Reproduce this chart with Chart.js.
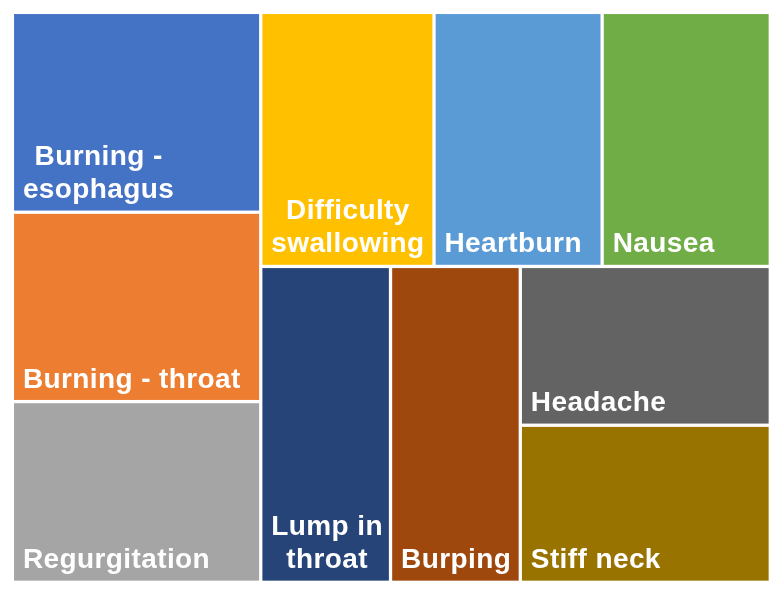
<!DOCTYPE html>
<html>
<head>
<meta charset="utf-8">
<title>Symptoms treemap</title>
<script src="https://cdn.jsdelivr.net/npm/chart.js@4.4.1/dist/chart.umd.min.js"></script>
<style>
  html, body { margin: 0; padding: 0; background: #ffffff; }
  #wrap { width: 784px; height: 596px; position: relative; }
</style>
</head>
<body>
<div id="wrap"><canvas id="chartTreemap"></canvas></div>
<script>
/* Treemap of reported symptoms — cells laid out from the values,
   drawn through hidden linear scales. */

const categories = [
  'Burning - esophagus', 'Burning - throat', 'Regurgitation',
  'Difficulty swallowing', 'Heartburn', 'Nausea',
  'Lump in throat', 'Burping', 'Headache', 'Stiff neck'
];
const values = [11.5, 10.9, 10.4, 10.2, 9.9, 9.9, 9.5, 9.5, 9.2, 9.1];
const colors = [
  '#4472C4', '#ED7D31', '#A5A5A5',
  '#FFC000', '#5B9BD5', '#70AD47',
  '#264478', '#9E480E', '#636363', '#997300'
];

// ── Squarified layout (strips along the short side) ─────────
function squarify(vals, W, H) {
  const total = vals.reduce((a, b) => a + b, 0);
  const order = vals.map((v, i) => i).sort((a, b) => vals[b] - vals[a] || a - b);
  const area = vals.map(v => v / total * W * H);
  const out = [];
  let r = { x: 0, y: 0, w: W, h: H };

  const worst = (idx, short) => {
    const s = idx.reduce((a, k) => a + area[k], 0);
    const t = s / short;
    let m = 0;
    idx.forEach(k => {
      const len = area[k] / t;
      m = Math.max(m, t / len, len / t);
    });
    return m;
  };

  let i = 0;
  while (i < order.length) {
    const column = r.w >= r.h;
    const short = Math.min(r.w, r.h);
    const long = Math.max(r.w, r.h);
    let strip = [order[i]];
    let best = worst(strip, short);
    let j = i + 1;
    while (j < order.length) {
      const cand = strip.concat(order[j]);
      const thick = cand.reduce((a, k) => a + area[k], 0) / short;
      if (thick > long / 2) break;
      const w = worst(cand, short);
      if (w > best) break;
      strip = cand; best = w; j++;
    }
    const thick = strip.reduce((a, k) => a + area[k], 0) / short;
    let off = 0;
    strip.forEach(k => {
      const len = area[k] / thick;
      if (column) out[k] = { x: r.x, y: r.y + off, w: thick, h: len };
      else out[k] = { x: r.x + off, y: r.y, w: len, h: thick };
      off += len;
    });
    if (column) { r.x += thick; r.w -= thick; }
    else { r.y += thick; r.h -= thick; }
    i = j;
  }
  return out;
}

// ── Plugin: draw cells and labels ───────────────────────────
const treemapCells = {
  id: 'treemapCells',
  afterDatasetsDraw(chart) {
    const { ctx, chartArea: ca, scales } = chart;
    const cells = squarify(values, ca.width, ca.height);
    const gap = 1.65;
    ctx.save();
    cells.forEach((c, k) => {
      const x0 = scales.x.getPixelForValue(c.x / ca.width);
      const x1 = scales.x.getPixelForValue((c.x + c.w) / ca.width);
      const y0 = scales.y.getPixelForValue(c.y / ca.height);
      const y1 = scales.y.getPixelForValue((c.y + c.h) / ca.height);
      ctx.fillStyle = colors[k];
      ctx.fillRect(x0 + gap, y0 + gap, x1 - x0 - 2 * gap, y1 - y0 - 2 * gap);

      // label, word-wrapped, lines centred in a block at bottom-left
      ctx.font = 'bold 28px "Liberation Sans", Arial, sans-serif';
      if ('letterSpacing' in ctx) ctx.letterSpacing = '0.4px';
      ctx.fillStyle = '#ffffff';
      ctx.textBaseline = 'alphabetic';
      ctx.textAlign = 'left';
      const maxW = x1 - x0 - 14;
      const words = categories[k].split(' ');
      const lines = [];
      let cur = '';
      words.forEach(wd => {
        const test = cur ? cur + ' ' + wd : wd;
        if (cur && ctx.measureText(test).width > maxW) { lines.push(cur); cur = wd; }
        else cur = test;
      });
      lines.push(cur);
      const widths = lines.map(l => ctx.measureText(l).width);
      const blockW = Math.max(...widths);
      const left = x0 + 10.5;
      const lineH = 33;
      lines.forEach((l, n) => {
        const base = y1 - 14 - (lines.length - 1 - n) * lineH;
        ctx.fillText(l, left + (blockW - widths[n]) / 2, base);
      });
    });
    ctx.restore();
  }
};

new Chart(document.getElementById('chartTreemap'), {
  type: 'scatter',
  data: { datasets: [{ data: [], pointRadius: 0 }] },
  options: {
    responsive: true,
    maintainAspectRatio: false,
    animation: false,
    layout: { padding: { left: 12.4, top: 12.4, right: 13.7, bottom: 13.7 } },
    scales: {
      x: { type: 'linear', min: 0, max: 1, display: false },
      y: { type: 'linear', min: 0, max: 1, reverse: true, display: false }
    },
    plugins: { legend: { display: false }, tooltip: { enabled: false } }
  },
  plugins: [treemapCells]
});
</script>
</body>
</html>
